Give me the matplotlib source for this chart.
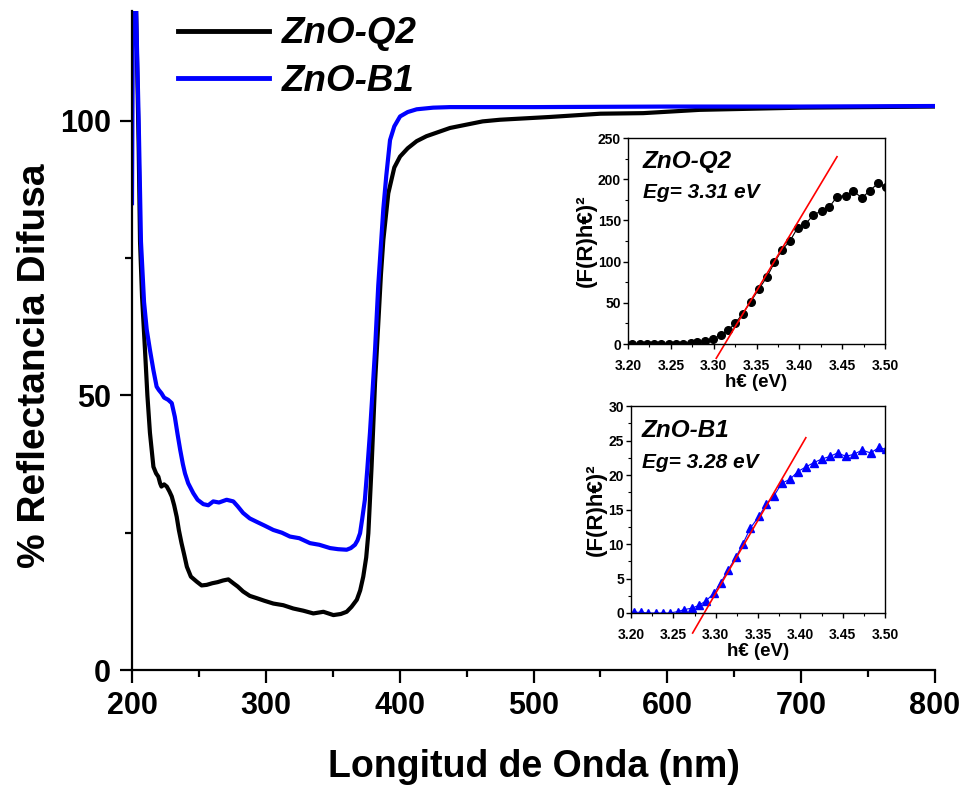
import matplotlib
matplotlib.use('Agg')
import matplotlib.pyplot as plt
from matplotlib.ticker import MultipleLocator, FormatStrFormatter

plt.rcParams['font.family'] = ['Liberation Sans', 'DejaVu Sans']
plt.rcParams['font.weight'] = 'bold'

# ── 主图数据：漫反射光谱 ──────────────────────────────────────────────
wl_q2 = [200, 203, 205, 206, 207.5, 209.7, 211.5, 213.4, 216, 218, 219.7, 221, 222,
         224, 226, 228, 229.7, 231.5, 233.4, 235, 237, 239, 241, 244, 248.3, 252,
         255.8, 260, 264, 268, 272, 275.7, 279, 283, 288, 293, 299, 305.6, 313,
         320.5, 328, 335.5, 343, 350.5, 356, 360.4, 364, 368, 370.5, 372.8, 375,
         376.6, 379, 381.6, 384, 386, 387.8, 391.5, 396, 400.3, 406, 412.7, 420,
         437.6, 462, 475, 512, 550, 582, 624, 700, 750, 800]
r_q2 = [121, 121, 95, 78, 68, 58.3, 50, 43.2, 37.0, 35.8, 35.2, 34.0, 33.4,
        33.8, 33.4, 32.5, 31.6, 30.0, 27.9, 25.5, 23.1, 21.0, 18.8, 17.0, 16.1, 15.4,
        15.5, 15.8, 16.0, 16.3, 16.5, 15.8, 15.2, 14.3, 13.5, 13.1, 12.6, 12.1, 11.8,
        11.2, 10.8, 10.3, 10.6, 10.0, 10.2, 10.6, 11.5, 12.8, 14.5, 17.0, 20.5,
        24.9, 37.0, 52.3, 63, 72, 78.3, 86.8, 91.5, 93.5, 95.0, 96.3, 97.2,
        98.7, 99.9, 100.2, 100.7, 101.3, 101.4, 102.0, 102.4, 102.5, 102.6]

wl_b1 = [200, 200.7, 203, 205, 206.7, 209, 211, 213.4, 216, 218.4, 220, 222, 224,
         227, 229.7, 232, 234, 236, 238, 239.6, 242, 245.8, 249, 253.3, 257, 260.7,
         265, 270.7, 275.7, 279, 283, 288, 293, 299, 305.6, 312, 318, 325, 333, 340,
         348, 354, 360.4, 363.5, 366.6, 368.5, 370.4, 372, 374, 375.8, 377.8, 379.8,
         381.6, 384, 387.8, 390, 392.8, 396, 400.3, 406, 412.7, 425, 437.6, 500,
         600, 700, 800]
r_b1 = [85, 121, 121, 100, 78, 67, 62, 58.3, 54.6, 51.6, 51.0, 50.4, 49.6,
        49.2, 48.6, 46.1, 43.0, 40.1, 37.5, 35.8, 34.0, 32.2, 31.0, 30.2, 30.0, 30.7,
        30.5, 31.0, 30.7, 29.8, 28.6, 27.6, 27.0, 26.3, 25.5, 25.0, 24.3, 24.0, 23.1,
        22.8, 22.2, 22.0, 21.9, 22.2, 22.8, 23.6, 24.9, 27.5, 31.0, 36.5, 43.2, 51.0,
        58.3, 70, 84, 90, 96.5, 99.0, 100.8, 101.6, 102.1, 102.4, 102.5, 102.5,
        102.6, 102.6, 102.7]

# ── 插图数据：Tauc 图 ─────────────────────────────────────────────────
e_q2 = [3.205, 3.214, 3.222, 3.230, 3.239, 3.248, 3.256, 3.264, 3.273, 3.281,
        3.290, 3.299, 3.308, 3.317, 3.325, 3.334, 3.343, 3.353, 3.362, 3.371,
        3.380, 3.389, 3.398, 3.407, 3.416, 3.426, 3.435, 3.444, 3.454, 3.463,
        3.473, 3.482, 3.492, 3.501]
f_q2 = [0, 0, 0, 0, 0, 0, 0, 0.5, 1, 2.5, 4, 6, 10.5, 17, 25, 37, 51, 67, 81, 99,
        114.5, 125, 141, 145.6, 156, 162, 166, 179, 180, 186, 177, 186, 195, 191]

e_b1 = [3.203, 3.212, 3.220, 3.229, 3.238, 3.246, 3.255, 3.263, 3.272, 3.280,
        3.289, 3.298, 3.306, 3.315, 3.324, 3.332, 3.341, 3.351, 3.360, 3.369,
        3.378, 3.388, 3.397, 3.407, 3.416, 3.425, 3.435, 3.444, 3.454, 3.463,
        3.473, 3.483, 3.493, 3.501]
f_b1 = [0.1, 0.1, 0, 0, 0, 0, 0.2, 0.5, 0.7, 1.1, 1.8, 2.9, 4.4, 6.3, 8.1, 10.0,
        12.3, 14.0, 15.8, 17.0, 18.8, 19.4, 20.5, 21.2, 21.8, 22.3, 22.7, 23.2,
        22.7, 23.0, 23.6, 23.2, 24.0, 23.7]

# 线性拟合 (Eg, 斜率, 画线范围)
eg_q2, slope_q2, span_q2 = 3.313, 1735, [3.303, 3.444]
eg_b1, slope_b1, span_b1 = 3.2865, 211.7, [3.2728, 3.4065]

# ── 绘图 ──────────────────────────────────────────────────────────────
fig = plt.figure(figsize=(9.64, 7.87), dpi=100)
W, H = 964, 787

def px_axes(l, t, r, b):
    return fig.add_axes([l / W, 1 - b / H, (r - l) / W, (b - t) / H])

ax = px_axes(132, 11, 935, 670)
ax.plot(wl_q2, r_q2, color='black', lw=3, label='ZnO-Q2', solid_joinstyle='round')
ax.plot(wl_b1, r_b1, color='#0000ff', lw=3, label='ZnO-B1', solid_joinstyle='round')
ax.set_xlim(200, 800)
ax.set_ylim(0, 120)
for s in ['top', 'right']:
    ax.spines[s].set_visible(False)
for s in ['left', 'bottom']:
    ax.spines[s].set_linewidth(1.6)
ax.xaxis.set_major_locator(MultipleLocator(100))
ax.xaxis.set_minor_locator(MultipleLocator(50))
ax.yaxis.set_major_locator(MultipleLocator(50))
ax.yaxis.set_minor_locator(MultipleLocator(25))
ax.tick_params(which='major', direction='out', length=9, width=1.6, labelsize=22, pad=6)
ax.tick_params(which='minor', direction='out', length=5, width=1.6)
for lab in ax.get_xticklabels() + ax.get_yticklabels():
    lab.set_fontweight('bold')
ax.set_xlabel('Longitud de Onda (nm)', fontsize=27, fontweight='bold', labelpad=20)
ax.set_ylabel('% Reflectancia Difusa', fontsize=28, fontweight='bold')
ax.yaxis.set_label_coords(-0.098, 0.461)

leg = ax.legend(loc='upper left', bbox_to_anchor=(160 / W, 1 + 2 / H),
                bbox_transform=fig.transFigure, frameon=False,
                handlelength=2.45, handletextpad=0.35, labelspacing=0.33,
                borderpad=0, prop={'size': 26.5, 'weight': 'bold', 'style': 'italic'})
for h in leg.get_lines():
    h.set_linewidth(3.5)

# 插图 1
ins1 = px_axes(628, 138, 885, 344)
ins1.plot(e_q2, f_q2, color='black', lw=0.8, marker='o', ms=5.5)
ins1.plot(span_q2, [slope_q2 * (x - eg_q2) for x in span_q2], color='red', lw=1.2, clip_on=False)
ins1.set_xlim(3.20, 3.50)
ins1.set_ylim(0, 250)
ins1.yaxis.set_major_locator(MultipleLocator(50))
ins1.yaxis.set_minor_locator(MultipleLocator(25))
ins1.text(0.058, 0.854, 'ZnO-Q2', transform=ins1.transAxes, fontsize=17.5,
          fontweight='bold', style='italic', va='baseline')
ins1.text(0.058, 0.709, 'Eg= 3.31 eV', transform=ins1.transAxes, fontsize=15,
          fontweight='bold', style='italic', va='baseline')

# 插图 2
ins2 = px_axes(631, 406, 885, 613)
ins2.plot(e_b1, f_b1, color='#0000ff', lw=0.8, marker='^', ms=6)
ins2.plot(span_b1, [slope_b1 * (x - eg_b1) for x in span_b1], color='red', lw=1.2, clip_on=False)
ins2.set_xlim(3.20, 3.50)
ins2.set_ylim(0, 30)
ins2.yaxis.set_major_locator(MultipleLocator(5))
ins2.yaxis.set_minor_locator(MultipleLocator(2.5))
ins2.text(0.043, 0.850, 'ZnO-B1', transform=ins2.transAxes, fontsize=17.5,
          fontweight='bold', style='italic', va='baseline')
ins2.text(0.043, 0.700, 'Eg= 3.28 eV', transform=ins2.transAxes, fontsize=15,
          fontweight='bold', style='italic', va='baseline')

for a in (ins1, ins2):
    a.xaxis.set_major_locator(MultipleLocator(0.05))
    a.xaxis.set_minor_locator(MultipleLocator(0.025))
    a.xaxis.set_major_formatter(FormatStrFormatter('%.2f'))
    for s in a.spines.values():
        s.set_linewidth(1.0)
    a.tick_params(which='major', direction='out', length=3.5, width=1.0, labelsize=10)
    a.tick_params(which='minor', direction='out', length=2, width=0.8)
    a.tick_params(axis='x', which='major', pad=7)
    a.tick_params(axis='y', which='major', pad=1.5)
    for lab in a.get_xticklabels() + a.get_yticklabels():
        lab.set_fontweight('bold')
    a.set_xlabel('h€ (eV)', fontsize=13.5, fontweight='bold', labelpad=1)
    a.set_ylabel('(F(R)h€)²', fontsize=16, fontweight='bold', labelpad=1)

fig.savefig('out.png', dpi=100)
